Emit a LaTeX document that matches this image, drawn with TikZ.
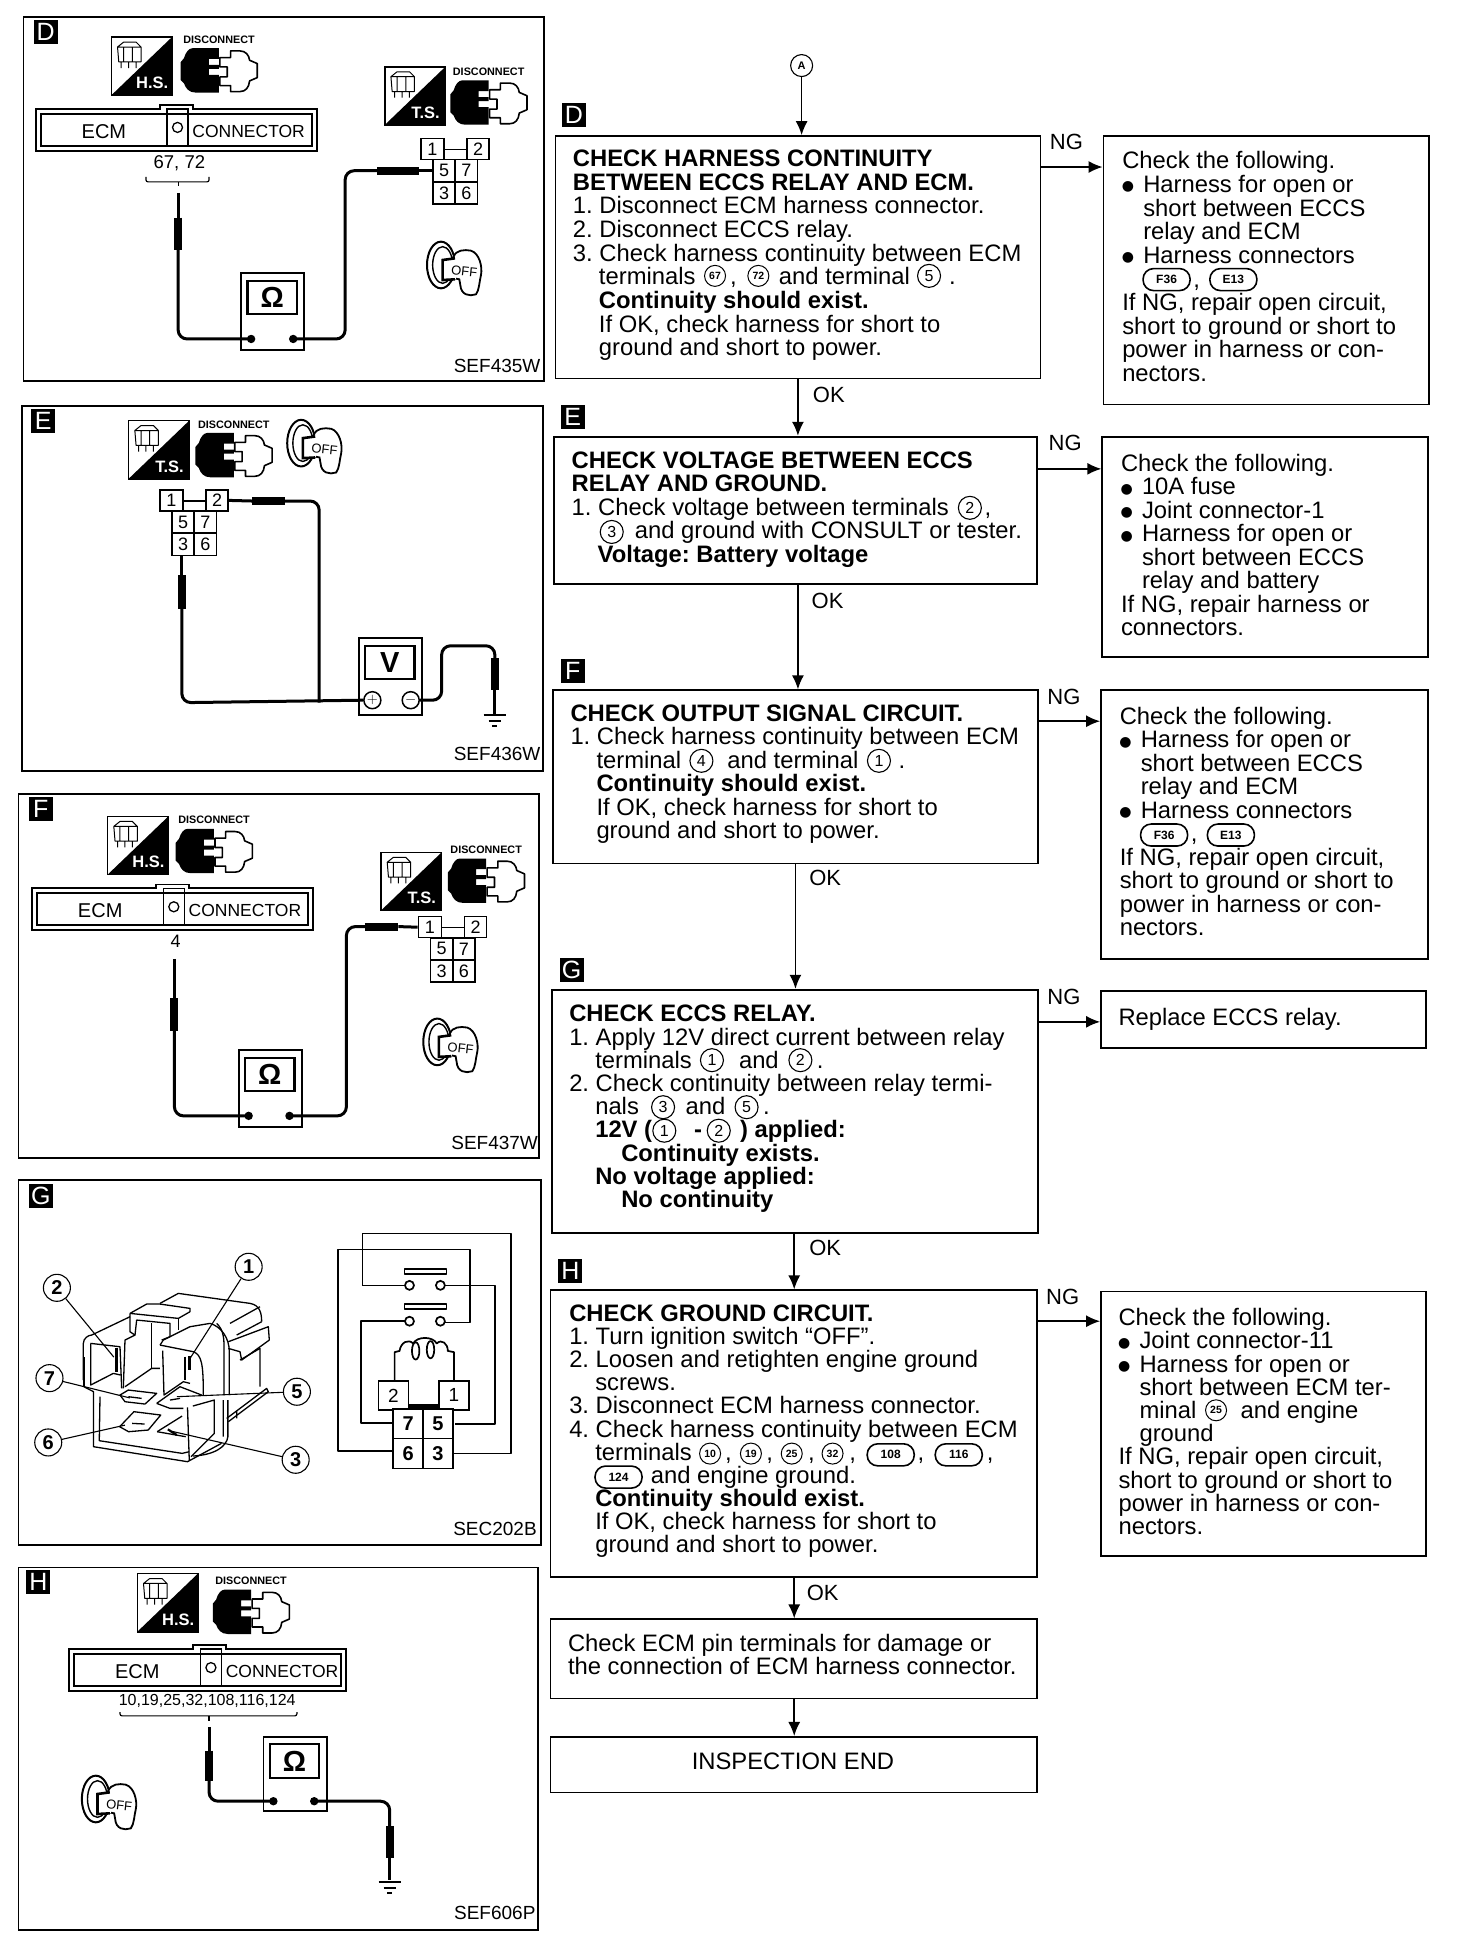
\documentclass[tikz,border=0pt]{standalone}
\usepackage{fontspec}
\setmainfont{Liberation Sans}
\newfontfamily\djv{DejaVu Sans}
\usetikzlibrary{arrows.meta,calc}
\newlength{\ind}\setlength{\ind}{26pt}
\newcommand{\I}{\hspace*{\ind}}
\newcommand{\J}{\hspace*{21pt}}
\newcommand{\gp}[1]{\hspace*{#1pt}}
\newcommand{\bul}{\makebox[21pt][l]{\hspace*{-.5pt}\raisebox{1.6pt}{\djv\fontsize{14}{14}\selectfont ●}}}
\tikzset{
  x=1.23704pt,y=-1.23704pt,
  flowbox/.style={draw,line width=1.8pt,inner sep=0pt,minimum width=#1},
  txt/.style={inner sep=0pt,anchor=north west,align=left,font=\fontsize{23.8}{#1}\selectfont\frenchspacing},
  txt/.default=23.5,
  arr/.style={line width=1.6pt,-{Latex[length=14pt,width=12pt]}},
  flowlab/.style={inner sep=0pt,font=\fontsize{22}{22}\selectfont},
  panel/.style={line width=1.8pt},
  tag/.style={fill=black,text=white,inner sep=0pt,minimum size=24pt,font=\fontsize{25}{25}\selectfont},
  sef/.style={inner sep=0pt,anchor=base east,font=\fontsize{19}{19}\selectfont},
  cn/.style={circle,draw,line width=1.1pt,inner sep=0pt,minimum size=23pt,font=\fontsize{16}{16}\selectfont},
  cs/.style={circle,draw,line width=1pt,inner sep=0pt,minimum size=21pt,font=\fontsize{10.5}{10.5}\bfseries\selectfont},
  pill/.style={draw,rounded corners=10.5pt,line width=1.6pt,inner sep=0pt,minimum width=47pt,minimum height=22pt,font=\fontsize{12}{12}\bfseries\selectfont},
  cc/.style={circle,draw,line width=1.1pt,inner sep=0pt,minimum size=27pt,font=\fontsize{20}{20}\bfseries\selectfont},
  pin/.style={draw,line width=1.5pt,fill=white,inner sep=0pt,font=\fontsize{18}{18}\selectfont},
  wire/.style={line width=3pt,rounded corners=9pt},
  thin wire/.style={line width=3pt},
  probe/.style={line width=8pt},
  rl/.style={line width=1.3pt,line join=round},
  sch/.style={line width=1.7pt,line join=round},
}
% small icon: H.S. or T.S. square
\newcommand{\svcicon}[4]{% name, x, y, label
  \begin{scope}[shift={(#2,#3)}]
    \draw[line width=1.6pt] (0,0) rectangle (49,47);
    \fill (49,0) -- (49,47) -- (0,47) -- cycle;
    \node[inner sep=0pt,text=white,font=\fontsize{16.5}{16.5}\bfseries\selectfont] (#1) at (33,37) {#4};
    \draw[line width=1pt,line join=round] (5,8) -- (10,4) -- (20,4) -- (24,8) -- (24,20) -- (6,20) -- cycle (5,8) -- (24,8) (10,8) -- (10,20) (17,8) -- (17,20) (8,20) -- (8,25) (14,20) -- (14,25) (20,20) -- (20,25);
  \end{scope}}
% disconnect plug
\newcommand{\plugicon}[3]{% name, x, y
  \begin{scope}[shift={(#2,#3)}]
    \node[inner sep=0pt,font=\fontsize{10.8}{10.8}\bfseries\selectfont] (#1) at (31,-7) {DISCONNECT};
    \begin{scope}[x=.3333pt,y=-.3333pt]
      \fill (35,0) -- (115,0) -- (115,32) -- (85,32) -- (85,50) -- (115,50) -- (115,62) -- (85,62) -- (85,80) -- (115,80) -- (115,133) -- (45,133) .. controls (25,133) and (15,120) .. (10,105) -- (0,95) -- (0,42) -- (10,30) .. controls (15,12) and (25,0) .. (35,0) -- cycle;
      \draw[line width=1.6pt,line join=round] (118,28) -- (150,28) -- (150,8) -- (178,8) .. controls (195,8) and (205,20) .. (207,36) -- (230,46) -- (230,88) -- (207,98) .. controls (205,118) and (195,130) .. (178,130) -- (150,130) -- (150,112) -- (118,112) -- (118,86) -- (140,86) -- (140,56) -- (118,56) -- cycle;
    \end{scope}
  \end{scope}}
% ignition key
\newcommand{\keyicon}[3]{% name, x, y (top-left)
  \begin{scope}[shift={(#2,#3)},x=.3333pt,y=-.3333pt]
    \draw[line width=2pt] (50,75) ellipse (42 and 70);
    \draw[line width=1.4pt] (55,75) ellipse (30 and 55);
    \draw[line width=1.8pt,fill=white] (88,50) .. controls (95,30) and (120,28) .. (140,32) .. controls (165,40) and (175,80) .. (170,105) .. controls (165,125) and (165,150) .. (155,163) .. controls (135,170) and (110,165) .. (108,135) -- (105,118) -- (75,112) -- (75,65) -- cycle;
    \fill[white] (60,58) rectangle (95,118);
    \draw[line width=2.6pt] (92,55) -- (55,60) -- (55,120) -- (92,118);
    \node[inner sep=0pt,rotate=-6,font=\fontsize{13}{13}\selectfont] (#1) at (120,95) {OFF};
  \end{scope}}
% tester
\newcommand{\meterbox}[5]{% name,x,y,height,symbol
  \begin{scope}[shift={(#2,#3)}]
    \draw[line width=1.9pt,fill=white] (0,0) rectangle (51,#4);
    \draw[line width=2.2pt] (5,6) rectangle (45,33);
    \node[inner sep=0pt,font=\fontsize{29}{29}\bfseries\selectfont] (#1) at (25,19.5) {#5};
  \end{scope}}
\newcommand{\ecmbar}[4]{% name,x,y,width
  \begin{scope}[shift={(#2,#3)}]
    \draw[line width=1.9pt] (0,0) -- (100,0) -- (100,-3) -- (127,-3) -- (127,0) -- (#4,0) -- (#4,34) -- (0,34) -- cycle;
    \draw[line width=1.9pt] (4,4) rectangle ({#4-4},30);
    \draw[line width=1.3pt] (106,0) rectangle (123,30);
    \node[circle,draw,line width=1.3pt,minimum size=10pt,inner sep=0pt] (#1-o) at (114.5,15) {};
    \node[inner sep=0pt,font=\fontsize{20}{20}\selectfont] (#1-e) at (55,18) {ECM};
    \node[inner sep=0pt,font=\fontsize{17.5}{17.5}\selectfont] (#1-c) at (172,18) {CONNECTOR};
  \end{scope}}
\newcommand{\pinset}[3]{% name,x,y
  \begin{scope}[shift={(#2,#3)}]
    \draw[line width=1.3pt] (19,9) -- (37,9);
    \node[pin,minimum width=23pt,minimum height=21pt] (#1-1) at (9.5,8.5) {1};
    \node[pin,minimum width=22pt,minimum height=21pt] (#1-2) at (46.5,8.5) {2};
    \node[pin,minimum width=22pt,minimum height=22pt] (#1-5) at (19,26) {5};
    \node[pin,minimum width=22pt,minimum height=22pt] (#1-7) at (37,26) {7};
    \node[pin,minimum width=22pt,minimum height=22pt] (#1-3) at (19,44) {3};
    \node[pin,minimum width=22pt,minimum height=22pt] (#1-6) at (37,44) {6};
  \end{scope}}
\newcommand{\groundsym}[2]{%
  \draw[line width=1.8pt] ({#1-9},#2) -- ({#1+9},#2) ({#1-5},{#2+5}) -- ({#1+5},{#2+5}) ({#1-2},{#2+9}) -- ({#1+2},{#2+9});}
\newcommand{\flowbx}[5]{% name,x1,y1,x2,y2
  \node[flowbox={(#4-#2)*1.23704pt},minimum height={(#5-#3)*1.23704pt}] (#1) at ({(#2+#4)/2},{(#3+#5)/2}) {};}
\begin{document}
\begin{tikzpicture}
\useasboundingbox (0,0) rectangle (1177,1568.2);
\fill[white] (0,0) rectangle (1177,1568.2);

%% ===== LEFT PANELS =====
\draw[panel] (19,14) rectangle (440,308);
\draw[panel] (18,328) rectangle (439,623);
\draw[panel] (15,642) rectangle (436,936);
\draw[panel] (15,954) rectangle (437,1249);
\draw[panel] (15,1267) rectangle (435,1560);
\node[tag] (pd) at (37,26) {D};
\node[tag] (pe) at (35,340) {E};
\node[tag] (pf) at (33,654) {F};
\node[tag] (pg) at (33,967) {G};
\node[tag] (ph) at (31,1279) {H};
\node[sef] (sd) at (437,301) {SEF435W};
\node[sef] (se) at (437,615) {SEF436W};
\node[sef] (sf) at (435,929) {SEF437W};
\node[sef] (sg) at (434,1241) {SEC202B};
\node[sef] (sh) at (433,1552) {SEF606P};

%% Panel D
\svcicon{dhs}{90}{30}{H.S.}
\plugicon{dpa}{146}{39}
\ecmbar{dbar}{29}{88}{227}
\node[inner sep=0pt,font=\fontsize{18.5}{18.5}\selectfont] (d6772) at (145,132) {67, 72};
\draw[line width=1.2pt,rounded corners=2pt] (118,143) -- (118,147) -- (169,147) -- (169,143);
\draw[line width=1.2pt] (144,147) -- (144,150);
\svcicon{dts}{311}{54}{T.S.}
\plugicon{dpb}{364}{65}
\pinset{dp}{340}{112}
\keyicon{dk}{343}{194}
\meterbox{dm}{195}{221}{62}{Ω}
\coordinate (dl) at (203,274); \coordinate (dr) at (237,274);
\draw[thin wire] (144,156) -- (144,176);
\draw[wire] (144,200) -- (144,274) -- (dl);
\draw[probe] (144,176) -- (144,202);
\fill (dl) circle (3.4);
\fill (dr) circle (3.4);
\draw[wire] (dr) -- (279,274) -- (279,138) -- (306,138);
\draw[probe] (305,138) -- (339,138);
\draw[thin wire] (339,138) -- (dp-5.west);

%% Panel E
\svcicon{ets}{104}{340}{T.S.}
\plugicon{epa}{158}{350}
\keyicon{ek}{230}{338}
\pinset{ep}{129}{396}
\meterbox{em}{290}{516}{62}{V}
\node[circle,draw,line width=1.5pt,inner sep=0pt,minimum size=17pt,font=\fontsize{14}{14}\selectfont] (eplus) at (301,566) {$+$};
\node[circle,draw,line width=1.5pt,inner sep=0pt,minimum size=17pt,font=\fontsize{14}{14}\selectfont] (emin) at (332,566) {$-$};
\draw[thin wire] (ep-2.east) -- (204,405);
\draw[probe] (204,405) -- (230,405);
\draw[wire] (229,405) -- (258,405) -- (258,568);
\draw[thin wire] (147,449) -- (147,465);
\draw[probe] (147,465) -- (147,492);
\draw[wire] (147,491) -- (147,568) -- (eplus.west);
\draw[wire] (emin.east) -- (357,566) -- (357,522) -- (400,522) -- (400,533);
\draw[probe] (400,532) -- (400,558);
\draw[thin wire] (400,558) -- (400,578);
\groundsym{400}{578}

%% Panel F
\svcicon{fhs}{87}{660}{H.S.}
\plugicon{fpa}{142}{670}
\ecmbar{fbar}{26}{718}{227}
\node[inner sep=0pt,font=\fontsize{18}{18}\selectfont] (f4) at (142,761) {4};
\draw[thin wire] (141,775) -- (141,807);
\draw[probe] (141,807) -- (141,833);
\svcicon{fts}{308}{689}{T.S.}
\plugicon{fpb}{362}{694}
\pinset{fp}{338}{741}
\keyicon{fk}{340}{822}
\meterbox{fm}{193}{849}{62}{Ω}
\coordinate (fl) at (201,902); \coordinate (fr) at (234,902);
\draw[wire] (141,832) -- (141,902) -- (fl);
\fill (fl) circle (3.4);
\fill (fr) circle (3.4);
\draw[wire] (fr) -- (280,902) -- (280,749) -- (296,749);
\draw[probe] (295,749) -- (322,749);
\draw[thin wire] (322,749) -- (fp-1.west);

%% Panel G schematic
\draw[sch] (293,1039) -- (293,997) -- (413,997) -- (413,1175) -- (367,1175);
\draw[sch] (293,1039) -- (327,1039);
\draw[sch] (318,1173) -- (273,1173) -- (273,1010) -- (380,1010) -- (380,1069) -- (360,1069);
\draw[sch] (360,1039) -- (400,1039) -- (400,1151) -- (368,1151);
\draw[sch] (327,1068) -- (292,1068) -- (292,1150) -- (318,1150);
\draw[sch] (327,1026) rectangle (361,1030);
\draw[sch] (327,1054) rectangle (361,1058);
\node[circle,draw,line width=1.7pt,minimum size=9pt,inner sep=0pt,fill=white] (g1a) at (331,1039) {};
\node[circle,draw,line width=1.7pt,minimum size=9pt,inner sep=0pt,fill=white] (g1b) at (356,1039) {};
\node[circle,draw,line width=1.7pt,minimum size=9pt,inner sep=0pt,fill=white] (g2a) at (331,1068) {};
\node[circle,draw,line width=1.7pt,minimum size=9pt,inner sep=0pt,fill=white] (g2b) at (356,1068) {};
\draw[sch] (319,1116) -- (319,1093) -- (323,1092) .. controls (324,1085) and (330,1082) .. (334,1086) .. controls (337,1080) and (350,1080) .. (353,1086) .. controls (357,1082) and (362,1086) .. (362,1092) -- (367,1093) -- (367,1116);
\draw[sch] (336,1092) ellipse (3 and 7) (348,1091) ellipse (3 and 7);
\fill (330,1135) rectangle (355,1140);
\node[pin,minimum width=30pt,minimum height=29pt,font=\fontsize{19}{19}\selectfont] (g2) at (318,1128) {2};
\node[pin,minimum width=30pt,minimum height=29pt,font=\fontsize{19}{19}\selectfont] (g1) at (367,1128) {1};
\node[pin,minimum width=30pt,minimum height=30pt,font=\fontsize{20}{20}\bfseries\selectfont] (g7) at (330,1151) {7};
\node[pin,minimum width=30pt,minimum height=30pt,font=\fontsize{20}{20}\bfseries\selectfont] (g5) at (354,1151) {5};
\node[pin,minimum width=30pt,minimum height=30pt,font=\fontsize{20}{20}\bfseries\selectfont] (g6) at (330,1175) {6};
\node[pin,minimum width=30pt,minimum height=30pt,font=\fontsize{20}{20}\bfseries\selectfont] (g3) at (354,1175) {3};

%% Panel G relay, upper part
\begin{scope}[x=.3333pt,y=-.3333pt,shift={(70pt,-1280pt)}]
  \draw[rl] (270,70) -- (325,40) -- (540,70) .. controls (570,75) and (575,100) .. (575,125);
  \draw[rl] (180,100) -- (230,72) -- (270,72) -- (360,85) -- (360,95) -- (325,115) -- (180,100);
  \draw[rl] (325,115) -- (325,150);
  \draw[rl] (180,100) -- (180,155) -- (195,165) -- (165,180) -- (160,325);
  \draw[rl] (195,165) -- (200,120) -- (300,130) -- (300,170) -- (275,180);
  \draw[rl] (245,130) -- (245,265);
  \draw[rl] (165,320) -- (245,265) -- (270,265);
  \draw[rl] (40,300) -- (40,190) .. controls (40,175) and (55,165) .. (65,165) -- (180,110);
  \draw[rl] (62,190) -- (150,200) -- (155,325);
  \draw[rl] (62,190) -- (62,315) -- (130,280) -- (152,285);
  \draw[line width=2.6pt] (140,205) -- (140,275);
  \draw[rl] (150,345) -- (165,365) -- (225,372) -- (260,340) -- (175,330) -- cycle;
  \draw[rl] (175,350) -- (215,355);
  \draw[rl] (270,195) -- (280,180) -- (360,140) -- (420,130);
  \draw[rl] (270,195) -- (370,215) .. controls (395,225) and (400,250) .. (400,345);
  \draw[rl] (278,212) -- (282,345) -- (340,305) -- (360,310);
  \draw[line width=2.6pt] (345,230) -- (345,300) (358,228) -- (358,270);
  \draw[rl] (420,130) .. controls (455,140) and (478,175) .. (478,215) -- (478,345);
  \draw[rl] (440,130) .. controls (462,150) and (462,180) .. (462,200) -- (462,345);
  \draw[rl] (475,185) -- (595,140) -- (598,180) -- (515,240) -- (510,215) -- (475,205);
  \draw[rl] (570,80) -- (480,130) (575,125) -- (500,165);
  \draw[rl] (510,240) -- (570,205) -- (570,320);
  \draw[rl] (260,370) -- (330,320) -- (395,345) (260,370) -- (300,385) -- (340,385);
  \draw[rl] (300,360) -- (330,355);
  \draw[rl] (470,415) -- (590,325) -- (595,335) -- (475,425) (500,395) -- (500,415);
\end{scope}
%% Panel G relay, lower part
\begin{scope}[x=.35714pt,y=-.3333pt,shift={(0pt,-1170pt)}]
  \draw[rl] (235,650) -- (262,665) -- (262,830) -- (525,875) -- (620,820);
  \draw[rl] (235,650) -- (235,560);
  \draw[rl] (280,680) -- (278,812) -- (510,850) -- (530,845);
  \draw[rl] (525,712) -- (530,872);
  \draw[rl] (540,708) -- (600,690) -- (600,790) -- (535,860);
  \draw[rl] (625,690) -- (625,800) (638,690) -- (638,800) .. controls (635,830) and (600,855) .. (540,858);
  \draw[rl] (335,770) -- (375,725) -- (450,735) -- (415,780) -- (360,785) -- cycle;
  \draw[rl] (370,760) -- (405,762);
  \draw[rl] (440,785) -- (510,738);
  \draw[rl] (440,785) -- (520,800);
  \draw[line width=2.2pt] (470,778) -- (495,795);
\end{scope}
\node[cc] (c1) at (201,1024) {1};
\node[cc] (c2) at (46,1041) {2};
\node[cc] (c7) at (40,1114) {7};
\node[cc] (c5) at (240,1125) {5};
\node[cc] (c6) at (39,1166) {6};
\node[cc] (c3) at (239,1180) {3};
\coordinate (t1) at (153,1099); \coordinate (t2) at (92,1097); \coordinate (t7) at (105,1130);
\coordinate (t5) at (143,1129); \coordinate (t6) at (101,1152); \coordinate (t3) at (139,1157);
\foreach \a/\b in {c1/t1,c2/t2,c7/t7,c5/t5,c6/t6,c3/t3} \draw[line width=1.1pt] (\a) -- (\b);

%% Panel H
\svcicon{hhs}{111}{1272}{H.S.}
\plugicon{hpa}{172}{1285}
\ecmbar{hbar}{56}{1333}{224}
\node[inner sep=0pt,font=\fontsize{16}{16}\selectfont] (hnums) at (167.5,1375) {10,19,25,32,108,116,124};
\draw[line width=1.2pt,rounded corners=2pt] (97,1384) -- (97,1387) -- (240,1387) -- (240,1384);
\draw[line width=1.2pt] (169,1387) -- (169,1391);
\keyicon{hk}{64}{1434}
\meterbox{hm}{213}{1404}{60}{Ω}
\coordinate (hl) at (221,1456); \coordinate (hr) at (254,1456);
\draw[thin wire] (169,1396) -- (169,1415);
\draw[probe] (169,1415) -- (169,1440);
\draw[wire] (169,1439) -- (169,1456) -- (hl);
\fill (hl) circle (3.4);
\fill (hr) circle (3.4);
\draw[wire] (hr) -- (315,1456) -- (315,1477);
\draw[probe] (315,1476) -- (315,1502);
\draw[thin wire] (315,1502) -- (315,1520);
\groundsym{315}{1521}

%% ===== FLOW =====
\node[tag] (td) at (464,93) {D};
\node[tag] (te) at (463,337) {E};
\node[tag] (tf) at (463,542) {F};
\node[tag] (tg) at (462,784) {G};
\node[tag] (th) at (461,1027) {H};

\flowbx{d}{449}{110}{841}{306}
\flowbx{dx}{892}{110}{1155}{327}
\flowbx{e}{448}{353}{838}{472}
\flowbx{ex}{891}{353}{1154}{531}
\flowbx{f}{447}{558}{839}{698}
\flowbx{fx}{890}{558}{1154}{775}
\flowbx{g}{446}{800}{839}{997}
\flowbx{gx}{890}{801}{1153}{847}
\flowbx{h}{445}{1043}{838}{1275}
\flowbx{hx}{890}{1044}{1153}{1258}
\flowbx{chk}{445}{1309}{838}{1373}
\flowbx{fin}{445}{1404}{838}{1449}

\node[txt=23.65] (dt) at (463,121) {\textbf{CHECK HARNESS CONTINUITY}\\\textbf{BETWEEN ECCS RELAY AND ECM.}\\1. Disconnect ECM harness connector.\\2. Disconnect ECCS relay.\\3. Check harness continuity between ECM\\\I terminals \gp{28}, \gp{29} and terminal \gp{26} .\\\I\textbf{Continuity should exist.}\\\I If OK, check harness for short to\\\I ground and short to power.};
\node[txt=23.6] (dxt) at (907,122.5) {Check the following.\\\bul Harness for open or\\\J short between ECCS\\\J relay and ECM\\\bul Harness connectors\\\J\hspace*{50pt}, \\If NG, repair open circuit,\\short to ground or short to\\power in harness or con-\\nectors.};
\node[txt] (et) at (462,365) {\textbf{CHECK VOLTAGE BETWEEN ECCS}\\\textbf{RELAY AND GROUND.}\\1. Check voltage between terminals \gp{29.4},\\\I\gp{30.5} and ground with CONSULT or tester.\\\I\textbf{Voltage: Battery voltage}};
\node[txt] (ext) at (906,367) {Check the following.\\\bul 10A fuse\\\bul Joint connector-1\\\bul Harness for open or\\\J short between ECCS\\\J relay and battery\\If NG, repair harness or\\connectors.};
\node[txt] (ft) at (461,569.5) {\textbf{CHECK OUTPUT SIGNAL CIRCUIT.}\\1. Check harness continuity between ECM\\\I terminal \gp{33} and terminal \gp{27} .\\\I\textbf{Continuity should exist.}\\\I If OK, check harness for short to\\\I ground and short to power.};
\node[txt] (fxt) at (905,571.5) {Check the following.\\\bul Harness for open or\\\J short between ECCS\\\J relay and ECM\\\bul Harness connectors\\\J\hspace*{50pt}, \\If NG, repair open circuit,\\short to ground or short to\\power in harness or con-\\nectors.};
\node[txt=23.2] (gt) at (460,812.5) {\textbf{CHECK ECCS RELAY.}\\1. Apply 12V direct current between relay\\\I terminals \gp{34} and \gp{25} .\\2. Check continuity between relay termi-\\\I nals \gp{33.5} and \gp{24.6} .\\\I\textbf{12V (}\gp{42}\textbf{-}\gp{38}\textbf{) applied:}\\\I\hspace*{26pt}\textbf{Continuity exists.}\\\I\textbf{No voltage applied:}\\\I\hspace*{26pt}\textbf{No continuity}};
\node[txt] (gxt) at (904,814.5) {Replace ECCS relay.};
\node[txt=23.15] (ht) at (460,1054.5) {\textbf{CHECK GROUND CIRCUIT.}\\1. Turn ignition switch “OFF”.\\2. Loosen and retighten engine ground\\\I screws.\\3. Disconnect ECM harness connector.\\4. Check harness continuity between ECM\\\I terminals \gp{26.8}, \gp{28}, \gp{28.5}, \gp{28}, \gp{55}, \gp{56},\\\I\gp{49} and engine ground.\\\I\textbf{Continuity should exist.}\\\I If OK, check harness for short to\\\I ground and short to power.};
\node[txt=23.2] (hxt) at (904,1057.5) {Check the following.\\\bul Joint connector-11\\\bul Harness for open or\\\J short between ECM ter-\\\J minal \gp{31} and engine\\\J ground\\If NG, repair open circuit,\\short to ground or short to\\power in harness or con-\\nectors.};
\node[txt] (chkt) at (459,1320.5) {Check ECM pin terminals for damage or\\the connection of ECM harness connector.};
\node[inner sep=0pt,font=\fontsize{23.8}{23.8}\selectfont] (fint) at (641,1423.5) {INSPECTION END};

% circled terminal numbers in the text
\node[cs] (n67) at (578,223) {67};
\node[cs] (n72) at (613,223) {72};
\node[cn] (n5d) at (751,223) {5};
\node[cn] (n2e) at (784,410.5) {2};
\node[cn] (n3e) at (494.5,430) {3};
\node[cn] (n4f) at (567,615) {4};
\node[cn] (n1f) at (710.5,615) {1};
\node[cn] (n1g) at (575.5,857) {1};
\node[cn] (n2g) at (647,857) {2};
\node[cn] (n3g) at (536,895) {3};
\node[cn] (n5g) at (603.5,895) {5};
\node[cn] (n1h) at (537,914) {1};
\node[cn] (n2h) at (581,914) {2};
\node[cs] (n10) at (574,1175) {10};
\node[cs] (n19) at (607,1175) {19};
\node[cs] (n25) at (640,1175) {25};
\node[cs] (n32) at (673,1175) {32};
\node[cs] (n25x) at (983,1140) {25};
\node[pill] (p108) at (720,1176) {108};
\node[pill] (p116) at (775,1176) {116};
\node[pill] (p124) at (500,1194) {124};
\node[pill] (pf36d) at (943,226) {F36};
\node[pill] (pe13d) at (997,226) {E13};
\node[pill] (pf36f) at (941,675) {F36};
\node[pill] (pe13f) at (995,675) {E13};

% connectors
\node[circle,draw,line width=1.1pt,inner sep=0pt,minimum size=22pt,font=\fontsize{11}{11}\bfseries\selectfont] (a) at (648,53) {A};
\draw[arr] (a.south) -- (a.south |- d.north);
\coordinate (o1) at (645,306); \coordinate (o2) at (645,472); \coordinate (o3) at (643,698); \coordinate (o4) at (642,997); \coordinate (o5) at (642,1275); \coordinate (o6) at (642,1373);
\draw[arr] (o1) -- (o1 |- e.north);
\draw[arr] (o2) -- (o2 |- f.north);
\draw[arr] (o3) -- (o3 |- g.north);
\draw[arr] (o4) -- (o4 |- h.north);
\draw[arr] (o5) -- (o5 |- chk.north);
\draw[arr] (o6) -- (o6 |- fin.north);
\coordinate (n1) at (841,135); \coordinate (n2) at (838,379); \coordinate (n3) at (839,583); \coordinate (n4) at (839,826); \coordinate (n5) at (838,1068);
\draw[arr] (n1) -- (n1 -| dx.west);
\draw[arr] (n2) -- (n2 -| ex.west);
\draw[arr] (n3) -- (n3 -| fx.west);
\draw[arr] (n4) -- (n4 -| gx.west);
\draw[arr] (n5) -- (n5 -| hx.west);
\node[flowlab] (lng1) at (862,115) {NG};
\node[flowlab] (lng2) at (861,358) {NG};
\node[flowlab] (lng3) at (860,563) {NG};
\node[flowlab] (lng4) at (860,806) {NG};
\node[flowlab] (lng5) at (859,1048) {NG};
\node[flowlab] (lok1) at (670,319) {OK};
\node[flowlab] (lok2) at (669,486) {OK};
\node[flowlab] (lok3) at (667,710) {OK};
\node[flowlab] (lok4) at (667,1009) {OK};
\node[flowlab] (lok5) at (665,1288) {OK};
\end{tikzpicture}
\end{document}
